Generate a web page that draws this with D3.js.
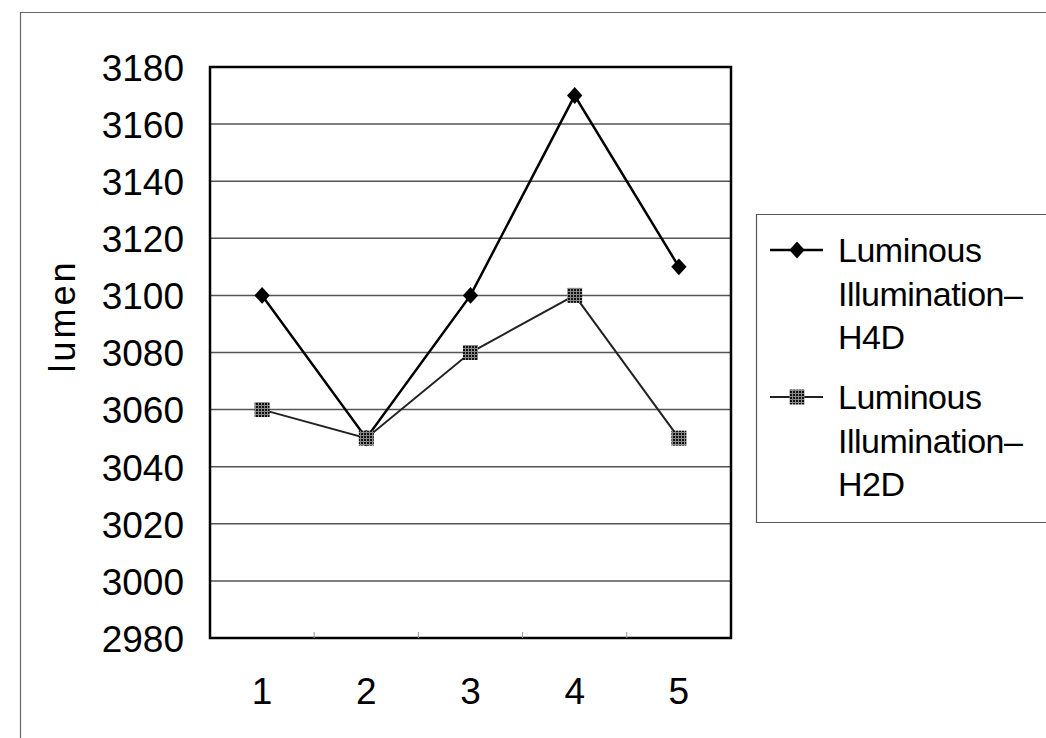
<!DOCTYPE html>
<html>
<head>
<meta charset="utf-8">
<script src="https://cdn.jsdelivr.net/npm/d3@7"></script>
<style>
  body { margin: 0; background: #fff; }
  text { font-family: "Liberation Sans", Arial, sans-serif; fill: #000; }
</style>
</head>
<body>
<script>
const categories = [1, 2, 3, 4, 5]
const h4d = [3100, 3050, 3100, 3170, 3110]
const h2d = [3060, 3050, 3080, 3100, 3050]
const yTicks = [2980, 3000, 3020, 3040, 3060, 3080, 3100, 3120, 3140, 3160, 3180]
const seriesNames = [['Luminous', 'Illumination\u2013', 'H4D'], ['Luminous', 'Illumination\u2013', 'H2D']]

const W = 1046, H = 738
const plot = { left: 210, top: 67, right: 731, bottom: 638 }

const svg = d3.select('body').append('svg')
    .attr('width', W)
    .attr('height', H)

// hatch pattern for the square marker
const defs = svg.append('defs')
const pat = defs.append('pattern')
    .attr('id', 'hatch')
    .attr('patternUnits', 'userSpaceOnUse')
    .attr('width', 3).attr('height', 3)
pat.append('rect').attr('width', 3).attr('height', 3).attr('fill', '#111')
pat.append('rect').attr('width', 1).attr('height', 3).attr('fill', '#888')
pat.append('rect').attr('width', 3).attr('height', 1).attr('fill', '#888')

// outer chart frame (only top + left visible)
svg.append('path')
    .attr('d', `M20.5,${H} V12.5 H${W}`)
    .attr('fill', 'none')
    .attr('stroke', '#666')
    .attr('stroke-width', 1.2)

const x = d3.scaleBand()
    .domain(categories)
    .range([plot.left, plot.right])

const y = d3.scaleLinear()
    .domain([2980, 3180])
    .range([plot.bottom, plot.top])

// gridlines
svg.append('g')
    .selectAll('line')
    .data(yTicks.slice(1, -1))
    .join('line')
    .attr('x1', plot.left).attr('x2', plot.right)
    .attr('y1', d => y(d)).attr('y2', d => y(d))
    .attr('stroke', '#555')
    .attr('stroke-width', 1.5)

// plot border
svg.append('rect')
    .attr('x', plot.left).attr('y', plot.top)
    .attr('width', plot.right - plot.left)
    .attr('height', plot.bottom - plot.top)
    .attr('fill', 'none')
    .attr('stroke', '#000')
    .attr('stroke-width', 2.5)

// small faint ticks between categories
svg.append('g')
    .selectAll('line')
    .data(categories.slice(1))
    .join('line')
    .attr('x1', d => x(d)).attr('x2', d => x(d))
    .attr('y1', plot.bottom - 6).attr('y2', plot.bottom)
    .attr('stroke', '#999')
    .attr('stroke-width', 1)

// y axis labels
const yAxis = svg.append('g')
    .attr('transform', `translate(${plot.left - 26},0)`)
    .call(d3.axisLeft(y).tickValues(yTicks).tickFormat(d3.format('d')).tickSize(0).tickPadding(0))
yAxis.select('.domain').remove()
yAxis.selectAll('text')
    .attr('font-size', 37)
    .attr('dy', '0.36em')
    .style('font-family', '"Liberation Sans", Arial, sans-serif')
    .attr('fill', '#000')

// x axis labels
const xAxis = svg.append('g')
    .attr('transform', `translate(0,${plot.bottom})`)
    .call(d3.axisBottom(x).tickSize(0).tickPadding(0))
xAxis.select('.domain').remove()
xAxis.selectAll('text')
    .attr('font-size', 37)
    .attr('y', 66)
    .attr('dy', 0)
    .style('font-family', '"Liberation Sans", Arial, sans-serif')
    .attr('fill', '#000')

// y axis title
svg.append('text')
    .attr('transform', 'translate(75,316) rotate(-90)')
    .attr('text-anchor', 'middle')
    .attr('font-size', 36)
    .attr('letter-spacing', 3)
    .text('lumen')

const cx = (d, i) => x(categories[i]) + x.bandwidth() / 2
const line = d3.line().x((d, i) => cx(d, i)).y(d => y(d))
const diamond = d3.symbol().type(d3.symbolDiamond2).size(150)

// H4D series
svg.append('path')
    .datum(h4d)
    .attr('d', line)
    .attr('fill', 'none')
    .attr('stroke', '#000')
    .attr('stroke-width', 2.5)
svg.append('g')
    .selectAll('path')
    .data(h4d)
    .join('path')
    .attr('d', diamond)
    .attr('transform', (d, i) => `translate(${cx(d, i)},${y(d)}) scale(1,1.1)`)
    .attr('fill', '#000')

// H2D series (drawn on top)
svg.append('path')
    .datum(h2d)
    .attr('d', line)
    .attr('fill', 'none')
    .attr('stroke', '#222')
    .attr('stroke-width', 2)
svg.append('g')
    .selectAll('rect')
    .data(h2d)
    .join('rect')
    .attr('x', (d, i) => cx(d, i) - 7.5)
    .attr('y', d => y(d) - 7.5)
    .attr('width', 15).attr('height', 15)
    .attr('fill', 'url(#hatch)')

// legend
const legend = svg.append('g')
legend.append('path')
    .attr('d', `M1046,214.5 H756.5 V522.5 H1046`)
    .attr('fill', 'none')
    .attr('stroke', '#555')
    .attr('stroke-width', 1.2)

const rows = [
    { y: 250, color: '#000', width: 2.5, kind: 'diamond', lines: seriesNames[0] },
    { y: 397, color: '#222', width: 2, kind: 'square', lines: seriesNames[1] }
]
rows.forEach(r => {
    legend.append('line')
        .attr('x1', 770).attr('x2', 823)
        .attr('y1', r.y).attr('y2', r.y)
        .attr('stroke', r.color)
        .attr('stroke-width', r.width)
    if (r.kind === 'diamond') {
        legend.append('path')
            .attr('d', diamond)
            .attr('transform', `translate(797,${r.y}) scale(1,1.1)`)
            .attr('fill', '#000')
    } else {
        legend.append('rect')
            .attr('x', 789.5).attr('y', r.y - 7.5)
            .attr('width', 15).attr('height', 15)
            .attr('fill', 'url(#hatch)')
    }
    legend.append('text')
        .attr('x', 838)
        .attr('font-size', 34)
        .attr('letter-spacing', -0.5)
        .selectAll('tspan')
        .data(r.lines)
        .join('tspan')
        .attr('x', 838)
        .attr('y', (d, i) => r.y + 12 + i * 43.5)
        .text(d => d)
})
</script>
</body>
</html>
